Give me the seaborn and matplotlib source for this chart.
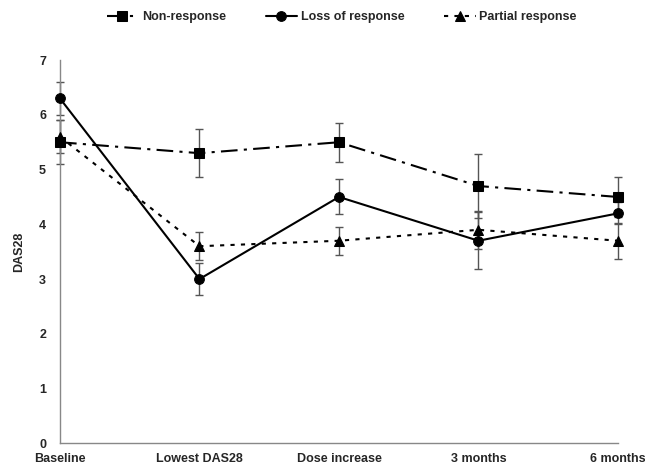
import pandas as pd
import numpy as np
import matplotlib
matplotlib.use("Agg")
import matplotlib.pyplot as plt
import seaborn as sns

timepoints = ["Baseline", "Lowest DAS28", "Dose increase", "3 months", "6 months"]
groups = ["Non-response", "Loss of response", "Partial response"]

non_response = [5.5, 5.3, 5.5, 4.7, 4.5]
non_response_err = [0.4, 0.44, 0.36, 0.58, 0.37]
loss_response = [6.3, 3.0, 4.5, 3.7, 4.2]
loss_response_err = [0.3, 0.3, 0.32, 0.52, 0.2]
partial_response = [5.6, 3.6, 3.7, 3.9, 3.7]
partial_response_err = [0.3, 0.26, 0.26, 0.35, 0.33]

df = pd.DataFrame({
    "time": timepoints * 3,
    "pos": list(range(5)) * 3,
    "group": [g for g in groups for _ in timepoints],
    "DAS28": non_response + loss_response + partial_response,
    "err": non_response_err + loss_response_err + partial_response_err,
})

sns.set_style("white")
plt.rcParams["font.family"] = ["Liberation Sans", "DejaVu Sans"]
plt.rcParams["font.weight"] = "bold"

fig, ax = plt.subplots(figsize=(6.45, 4.7), dpi=100)
fig.subplots_adjust(left=0.093, right=0.958, bottom=0.057, top=0.872)

# error bars first (gray, capped)
for g in groups:
    sub = df[df["group"] == g]
    eb = ax.errorbar(sub["pos"], sub["DAS28"], yerr=sub["err"], fmt="none",
                     ecolor="#555555", elinewidth=1, capsize=3, capthick=1, zorder=1)
    for art in eb.lines[1] + eb.lines[2]:
        art.set_clip_on(False)

styles = {
    "Non-response": dict(marker="s", dashes=(8, 3, 1.5, 3)),
    "Loss of response": dict(marker="o", dashes=""),
    "Partial response": dict(marker="^", dashes=(2, 3)),
}
for g in groups:
    sub = df[df["group"] == g]
    st = styles[g]
    sns.lineplot(data=sub, x="pos", y="DAS28", ax=ax, color="black",
                 linewidth=1.5, marker=st["marker"], markersize=7,
                 markeredgecolor="black", label=g, zorder=3)
    ln = ax.lines[-1]
    ln.set_clip_on(False)
    if st["dashes"]:
        ln.set_dashes(st["dashes"])

ax.set_xlim(0, 4)
ax.set_ylim(0, 7)
ax.set_xticks(range(5))
ax.set_xticklabels(timepoints, fontsize=9, fontweight="bold")
ax.set_yticks(range(8))
ax.set_yticklabels([str(i) for i in range(8)], fontsize=9, fontweight="bold")
ax.set_xlabel("")
ax.set_ylabel("DAS28", fontsize=9, fontweight="bold", labelpad=10)
ax.tick_params(axis="both", direction="out", length=4, color="#888888")
ax.tick_params(axis="y", pad=6)
ax.tick_params(axis="x", pad=3)
sns.despine(ax=ax)
for s in ["left", "bottom"]:
    ax.spines[s].set_color("#888888")
    ax.spines[s].set_linewidth(1)

handles, labels = ax.get_legend_handles_labels()
ax.get_legend().remove()
for h, g in zip(handles, labels):
    if styles[g]["dashes"]:
        h.set_dashes(styles[g]["dashes"])
fig.legend(handles, labels, loc="upper center", bbox_to_anchor=(0.53, 1.0),
           ncol=3, frameon=False, handlelength=2.5, columnspacing=3.2,
           handletextpad=0.3, prop={"weight": "bold", "size": 9})

fig.savefig("out.png", dpi=100)
